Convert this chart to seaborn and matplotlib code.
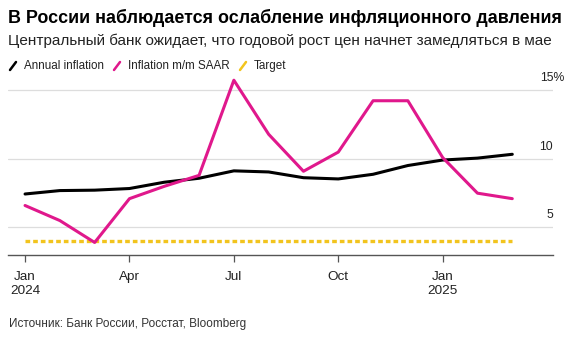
import matplotlib
matplotlib.use("Agg")
import matplotlib.pyplot as plt
import seaborn as sns
import pandas as pd
from matplotlib.lines import Line2D

months = ["2024-01", "2024-02", "2024-03", "2024-04", "2024-05", "2024-06", "2024-07",
          "2024-08", "2024-09", "2024-10", "2024-11", "2024-12", "2025-01", "2025-02", "2025-03"]
annual = [7.44, 7.69, 7.72, 7.84, 8.30, 8.59, 9.13, 9.05, 8.63, 8.54, 8.88, 9.52, 9.92, 10.06, 10.34]
mm_saar = [6.6, 5.5, 3.9, 7.1, 8.0, 8.8, 15.75, 11.8, 9.1, 10.5, 14.25, 14.25, 10.1, 7.5, 7.1]
target = [4.0] * len(months)
tick_pos = [0, 3, 6, 9, 12]
tick_labels = ["Jan\n2024", "Apr", "Jul", "Oct", "Jan\n2025"]
ytick_vals = [5, 10, 15]
ytick_labels = ["5", "10", "15%"]

BLACK = "#000000"
MAGENTA = "#e0188c"
YELLOW = "#f2c41e"
FONT = "Liberation Sans"

sns.set_theme(style="white")
plt.rcParams["font.family"] = [FONT, "DejaVu Sans"]

df = pd.DataFrame({"idx": range(len(months)), "month": months,
                   "annual": annual, "mm": mm_saar, "target": target})

fig = plt.figure(figsize=(5.76, 3.4), dpi=100)
W, H = 576, 340
ax_left, ax_right, ax_top, ax_bot = 8, 553, 75, 254.8
ax = fig.add_axes([ax_left / W, 1 - ax_bot / H, (ax_right - ax_left) / W, (ax_bot - ax_top) / H])

for yv in ytick_vals:
    ax.axhline(yv, color="#dddddd", lw=0.9, zorder=0)

sns.lineplot(data=df, x="idx", y="target", ax=ax, color=YELLOW, lw=2.4,
             dashes=False, zorder=2)
ax.lines[-1].set_linestyle((0, (1.4, 0.9)))
sns.lineplot(data=df, x="idx", y="annual", ax=ax, color=BLACK, lw=2.2, zorder=3)
sns.lineplot(data=df, x="idx", y="mm", ax=ax, color=MAGENTA, lw=2.2, zorder=4)

ax.set_xlim(-0.49, 15.17)
ax.set_ylim(3, 16.13)
ax.set_xlabel("")
ax.set_ylabel("")
ax.set_yticks([])
ax.set_xticks(tick_pos)
ax.set_xticklabels(tick_labels, fontsize=9.7, color="#222222", linespacing=1.15)
ax.tick_params(axis="x", length=5, width=0.9, color="#555555", direction="out", pad=7, bottom=True)
for s in ["top", "right", "left"]:
    ax.spines[s].set_visible(False)
ax.spines["bottom"].set_color("#555555")
ax.spines["bottom"].set_linewidth(1.0)

trans = ax.get_yaxis_transform()
for yv, lab in zip(ytick_vals, ytick_labels):
    if lab.endswith("%"):
        ax.text(1.0 - 13 / (ax_right - ax_left), yv + 0.45, lab, transform=trans, ha="left", va="bottom",
                fontsize=8.8, color="#222222")
    else:
        ax.text(1.0, yv + 0.45, lab, transform=trans, ha="right", va="bottom",
                fontsize=8.8, color="#222222")

fig.text(8 / W, 1 - 18 / H, "В России наблюдается ослабление инфляционного давления",
         fontsize=12.9, fontweight="bold", va="center", ha="left", color="#000000")
fig.text(8 / W, 1 - 41 / H, "Центральный банк ожидает, что годовой рост цен начнет замедляться в мае",
         fontsize=11.0, va="center", ha="left", color="#222222")

legend_items = [("Annual inflation", BLACK, 10), ("Inflation m/m SAAR", MAGENTA, 114), ("Target", YELLOW, 240)]
for lab, col, x0 in legend_items:
    fig.add_artist(Line2D([x0 / W, (x0 + 6) / W], [1 - 70 / H, 1 - 62 / H], color=col, lw=1.8,
                          transform=fig.transFigure))
    fig.text((x0 + 14) / W, 1 - 66 / H, lab, fontsize=8.4, va="center", ha="left", color="#222222")

fig.text(9 / W, 1 - 324 / H, "Источник: Банк России, Росстат, Bloomberg",
         fontsize=8.45, va="center", ha="left", color="#333333")

fig.savefig("out.png", dpi=100)
